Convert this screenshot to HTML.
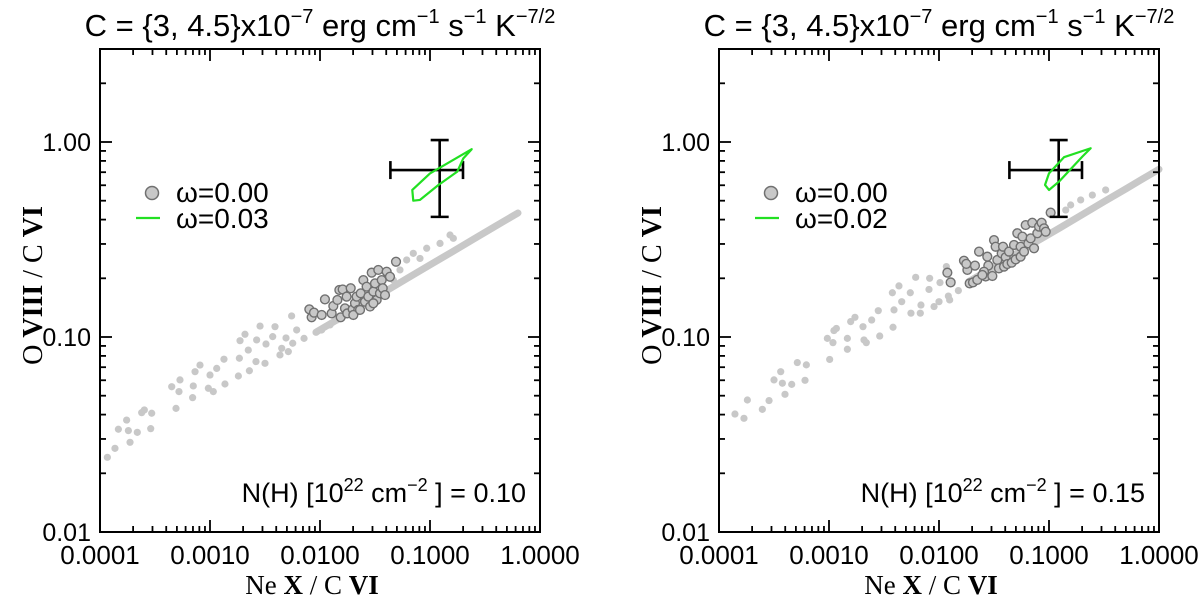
<!DOCTYPE html>
<html><head><meta charset="utf-8"><style>
html,body{margin:0;padding:0;background:#fff;}
svg{display:block;font-family:"Liberation Sans",sans-serif;}
</style></head><body>
<svg id="fig" width="1200" height="598" viewBox="0 0 1200 598"></svg>
<script>
// ---- data (log10 values of line ratios) ----
const xTickLabels = ["0.0001","0.0010","0.0100","0.1000","1.0000"];
const yTickLabels = ["0.01","0.10","1.00"];
const titles = ["C = {3, 4.5}x10", "C = {3, 4.5}x10"];
const nhValues = ["0.10","0.15"];
const legendOmega = ["\u03c9=0.03","\u03c9=0.02"];

const grayX_L = [-3.933,-3.864,-3.833,-3.758,-3.742,-3.727,-3.661,-3.621,-3.597,-3.539,-3.530,-3.348,-3.309,-3.282,-3.273,-3.158,-3.152,-3.136,-3.091,-3.015,-3.000,-2.970,-2.939,-2.864,-2.873,-2.742,-2.733,-2.727,-2.682,-2.652,-2.642,-2.582,-2.576,-2.545,-2.500,-2.491,-2.430,-2.409,-2.364,-2.348,-2.309,-2.288,-2.248,-2.258,-2.212,-2.145,-2.036,-1.985,-1.909,-1.848,-1.152,-1.030,-0.909,-0.788,-1.212,-1.091,-1.273,-1.333,-0.818];
const grayY_L = [-1.617,-1.571,-1.473,-1.426,-1.480,-1.540,-1.489,-1.388,-1.374,-1.470,-1.391,-1.255,-1.366,-1.280,-1.220,-1.311,-1.251,-1.178,-1.144,-1.263,-1.195,-1.280,-1.161,-1.241,-1.114,-1.200,-1.109,-1.019,-0.986,-1.067,-1.173,-1.126,-1.015,-0.944,-1.135,-1.036,-0.998,-0.947,-1.092,-1.058,-1.005,-1.075,-1.032,-0.892,-0.964,-1.007,-0.976,-0.964,-0.938,-0.913,-0.571,-0.545,-0.520,-0.494,-0.605,-0.597,-0.656,-0.708,-0.477];
const bandX_L = [-2.03,-1.8,-1.6,-1.4,-1.2,-1.0,-0.8,-0.6,-0.4,-0.2];
const bandY_L = [-0.973,-0.897,-0.830,-0.764,-0.697,-0.630,-0.564,-0.497,-0.430,-0.364];
const circX_L = [-2.097,-2.076,-2.055,-1.985,-1.955,-1.894,-1.879,-1.842,-1.824,-1.812,-1.794,-1.773,-1.758,-1.752,-1.721,-1.703,-1.682,-1.667,-1.652,-1.630,-1.606,-1.591,-1.576,-1.561,-1.545,-1.530,-1.515,-1.500,-1.485,-1.470,-1.455,-1.439,-1.430,-1.409,-1.394,-1.364,-1.309,-1.697,-1.636,-1.515];
const circY_L = [-0.858,-0.899,-0.875,-0.887,-0.807,-0.879,-0.841,-0.810,-0.759,-0.899,-0.756,-0.853,-0.793,-0.879,-0.750,-0.858,-0.827,-0.793,-0.861,-0.776,-0.708,-0.819,-0.742,-0.793,-0.844,-0.670,-0.767,-0.725,-0.810,-0.656,-0.776,-0.708,-0.750,-0.785,-0.665,-0.691,-0.614,-0.887,-0.861,-0.827];
const contX_L = [-0.621,-0.697,-0.752,-0.925,-1.091,-1.152,-1.161,-1.000];
const contY_L = [-0.037,-0.084,-0.152,-0.221,-0.297,-0.301,-0.246,-0.161];

const grayX_R = [-3.855,-3.773,-3.742,-3.606,-3.545,-3.500,-3.439,-3.424,-3.339,-3.400,-3.288,-3.206,-3.218,-3.015,-2.955,-2.933,-2.964,-2.994,-2.833,-2.803,-2.764,-2.833,-2.691,-2.682,-2.661,-2.612,-2.539,-2.552,-2.418,-2.409,-2.424,-2.364,-2.339,-2.255,-2.261,-2.212,-2.170,-2.164,-2.085,-2.091,-2.045,-2.000,-1.991,-1.933,-1.915,-1.903,-1.824,-0.848,-0.803,-0.712,-0.606,-0.485];
const grayY_R = [-1.395,-1.417,-1.323,-1.371,-1.326,-1.220,-1.178,-1.237,-1.243,-1.294,-1.131,-1.143,-1.222,-1.007,-0.967,-0.956,-1.029,-1.115,-1.007,-0.921,-0.899,-1.063,-0.947,-1.015,-1.029,-0.913,-0.995,-0.865,-0.950,-0.861,-0.773,-0.738,-0.819,-0.878,-0.773,-0.694,-0.878,-0.836,-0.699,-0.756,-0.844,-0.819,-0.721,-0.639,-0.790,-0.810,-0.762,-0.349,-0.323,-0.297,-0.272,-0.246];
const bandX_R = [-1.73,-1.5,-1.3,-1.1,-0.9,-0.7,-0.5,-0.3,-0.1,0.0];
const bandY_R = [-0.716,-0.640,-0.573,-0.506,-0.440,-0.373,-0.306,-0.240,-0.173,-0.140];
const circX_R = [-1.924,-1.894,-1.773,-1.742,-1.752,-1.673,-1.721,-1.691,-1.652,-1.636,-1.576,-1.561,-1.552,-1.515,-1.500,-1.485,-1.470,-1.455,-1.430,-1.418,-1.409,-1.394,-1.379,-1.364,-1.339,-1.318,-1.303,-1.288,-1.258,-1.258,-1.242,-1.227,-1.212,-1.188,-1.167,-1.152,-1.136,-1.106,-1.091,-1.067,-1.045,-1.030,-0.985,-1.591,-1.606];
const circY_R = [-0.670,-0.720,-0.609,-0.656,-0.625,-0.634,-0.725,-0.720,-0.707,-0.562,-0.690,-0.588,-0.634,-0.687,-0.503,-0.537,-0.605,-0.648,-0.571,-0.537,-0.639,-0.591,-0.626,-0.562,-0.619,-0.528,-0.602,-0.468,-0.537,-0.588,-0.485,-0.562,-0.426,-0.520,-0.494,-0.414,-0.545,-0.468,-0.434,-0.414,-0.443,-0.460,-0.362,-0.665,-0.682];
const contX_R = [-0.621,-0.697,-0.909,-1.000,-1.036,-1.000,-0.864];
const contY_R = [-0.032,-0.075,-0.203,-0.246,-0.220,-0.161,-0.078];

const errX = [-0.912, -1.36, -0.70];   // center, low, high
const errY = [-0.144, -0.384, 0.010];

const NS = "http://www.w3.org/2000/svg";
const svg = document.getElementById("fig");
function mk(tag, attrs, parent){ const e=document.createElementNS(NS,tag); for(const k in attrs) e.setAttribute(k,attrs[k]); (parent||svg).appendChild(e); return e; }

function panel(ox, idx, gX,gY,bX,bY,cX,cY,kX,kY){
  const L=ox, R=ox+440, T=49, B=532;
  const sx = lx => L + (lx+4)*110;
  const sy = ly => B - (ly+2)*195;
  const g = mk("g",{});
  
  

  const t = mk("text",{x:(L+R)/2,y:36,"text-anchor":"middle","font-size":31,fill:"#000"},g);
  
  
  t.innerHTML = titles[idx]+'<tspan dy="-13" font-size="20">\u22127</tspan><tspan dy="13"> erg cm</tspan><tspan dy="-13" font-size="20">\u22121</tspan><tspan dy="13"> s</tspan><tspan dy="-13" font-size="20">\u22121</tspan><tspan dy="13"> K</tspan><tspan dy="-13" font-size="20">\u22127/2</tspan>';

  let pts = bX.map((v,i)=>sx(v)+","+sy(bY[i])).join(" ");
  const band = mk("polyline",{points:pts,fill:"none",stroke:"#c8c8c8","stroke-width":7,"stroke-linecap":"round","stroke-linejoin":"round"},g);
  
  
  gX.forEach((v,i)=>{
    const c = mk("circle",{cx:sx(v),cy:sy(gY[i]),r:3.6,fill:"#c8c8c8"},g);
    
    
  });
  cX.forEach((v,i)=>{
    const c = mk("circle",{cx:sx(v),cy:sy(cY[i]),r:4.4,fill:"#c8c8c8",stroke:"#707070","stroke-width":1.4},g);
    
    
  });
  const eg = mk("g",{stroke:"#000","stroke-width":2.6,fill:"none"},g);
  
  
  const cx=sx(errX[0]), cy=sy(errY[0]);
  mk("line",{x1:sx(errX[1]),y1:cy,x2:sx(errX[2]),y2:cy},eg);
  mk("line",{x1:sx(errX[1]),y1:cy-9,x2:sx(errX[1]),y2:cy+9},eg);
  mk("line",{x1:sx(errX[2]),y1:cy-9,x2:sx(errX[2]),y2:cy+9},eg);
  mk("line",{x1:cx,y1:sy(errY[1]),x2:cx,y2:sy(errY[2])},eg);
  mk("line",{x1:cx-9,y1:sy(errY[1]),x2:cx+9,y2:sy(errY[1])},eg);
  mk("line",{x1:cx-9,y1:sy(errY[2]),x2:cx+9,y2:sy(errY[2])},eg);
  pts = kX.map((v,i)=>sx(v)+","+sy(kY[i])).join(" ");
  const ct = mk("polygon",{points:pts,fill:"none",stroke:"#22e022","stroke-width":2.2,"stroke-linejoin":"round"},g);
  
  

  const box = mk("rect",{x:L,y:T,width:R-L,height:B-T,fill:"none",stroke:"#000","stroke-width":2},g);
  
  
  const tk = mk("g",{stroke:"#000","stroke-width":1.8},g);
  
  
  for(let d=-4; d<=0; d++){
    for(let m=1;m<=9;m++){
      if(d===0 && m>1) break;
      const x = sx(d+Math.log10(m)); const len = m===1?12:6;
      mk("line",{x1:x,y1:B,x2:x,y2:B-len},tk);
      mk("line",{x1:x,y1:T,x2:x,y2:T+len},tk);
    }
  }
  for(let d=-2; d<=0; d++){
    for(let m=1;m<=9;m++){
      const ly=d+Math.log10(m); if(ly>Math.log10(3)+0.001) break;
      const y=sy(ly); const len = m===1?12:6;
      mk("line",{x1:L,y1:y,x2:L+len,y2:y},tk);
      mk("line",{x1:R,y1:y,x2:R-len,y2:y},tk);
    }
  }
  xTickLabels.forEach((s,i)=>{
    const e = mk("text",{x:sx(i-4),y:564,"text-anchor":"middle","font-size":26},g);
    e.textContent=s;
    
    
  });
  yTickLabels.forEach((s,i)=>{
    const e = mk("text",{x:L-9,y:sy(i-2)+9,"text-anchor":"end","font-size":25},g);
    e.textContent=s;
    
    
  });
  const xt = mk("text",{x:(L+R)/2 - 8,y:594,"text-anchor":"middle","font-size":27,"font-family":"Liberation Serif, serif"},g);
  xt.innerHTML='Ne <tspan font-weight="bold">X</tspan> / C <tspan font-weight="bold">VI</tspan>';
  
  
  const yt = mk("text",{x:0,y:0,"text-anchor":"middle","font-size":28,"font-family":"Liberation Serif, serif",transform:`translate(${L-58},${(T+B)/2-5}) rotate(-90)`},g);
  yt.innerHTML='O <tspan font-weight="bold">VIII</tspan> / C <tspan font-weight="bold">VI</tspan>';
  
  
  const nh = mk("text",{x:R-14,y:502,"text-anchor":"end","font-size":27},g);
  nh.innerHTML='N(H) [10<tspan dy="-11" font-size="18">22</tspan><tspan dy="11"> cm</tspan><tspan dy="-11" font-size="18">\u22122</tspan><tspan dy="11"> ] = '+nhValues[idx]+'</tspan>';
  
  
  const lg = mk("g",{},g);
  
  
  mk("circle",{cx:L+52,cy:193,r:6.5,fill:"#c8c8c8",stroke:"#707070","stroke-width":1.5},lg);
  const l1 = mk("text",{x:L+76,y:202,"font-size":28},lg); l1.textContent="\u03c9=0.00";
  
  
  mk("line",{x1:L+36,y1:218,x2:L+60,y2:218,stroke:"#22e022","stroke-width":2.2},lg);
  const l2 = mk("text",{x:L+76,y:228,"font-size":28},lg); l2.textContent=legendOmega[idx];
  
  
}
panel(100,0,grayX_L,grayY_L,bandX_L,bandY_L,circX_L,circY_L,contX_L,contY_L);
panel(719,1,grayX_R,grayY_R,bandX_R,bandY_R,circX_R,circY_R,contX_R,contY_R);
</script>
</body></html>
